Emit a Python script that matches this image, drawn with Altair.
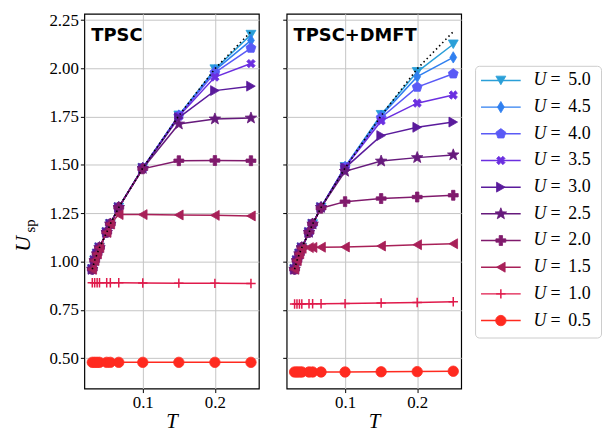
import math
import altair as alt
import pandas as pd

# ---------------- data ----------------
T = [0.03, 0.0333, 0.0367, 0.04, 0.05, 0.055, 0.0667, 0.1, 0.15, 0.2, 0.25]
U_VALUES = [5.0, 4.5, 4.0, 3.5, 3.0, 2.5, 2.0, 1.5, 1.0, 0.5]

# dotted line (upper bound)
crit = [0.96, 1.005, 1.04, 1.072, 1.151, 1.194, 1.28, 1.484, 1.755, 1.998, 2.19]

# TPSC panel
tpsc_50 = [0.96, 1.005, 1.04, 1.072, 1.151, 1.194, 1.28, 1.484, 1.757, 1.996, 2.175]
tpsc_45 = [0.96, 1.005, 1.04, 1.072, 1.151, 1.194, 1.28, 1.484, 1.756, 1.990, 2.145]
tpsc_40 = [0.96, 1.005, 1.04, 1.072, 1.151, 1.194, 1.28, 1.484, 1.755, 1.978, 2.105]
tpsc_35 = [0.96, 1.005, 1.04, 1.072, 1.151, 1.194, 1.28, 1.484, 1.752, 1.955, 2.025]
tpsc_30 = [0.96, 1.005, 1.04, 1.072, 1.151, 1.194, 1.28, 1.483, 1.745, 1.885, 1.908]
tpsc_25 = [0.96, 1.005, 1.04, 1.072, 1.151, 1.194, 1.28, 1.482, 1.712, 1.738, 1.743]
tpsc_20 = [0.96, 1.005, 1.04, 1.072, 1.151, 1.194, 1.28, 1.480, 1.522, 1.523, 1.522]
tpsc_15 = [0.96, 1.005, 1.04, 1.072, 1.151, 1.194, 1.243, 1.243, 1.241, 1.239, 1.236]
tpsc_10 = [0.890, 0.890, 0.890, 0.890, 0.890, 0.890, 0.890, 0.889, 0.888, 0.887, 0.886]
tpsc_05 = [0.478, 0.478, 0.478, 0.478, 0.478, 0.478, 0.478, 0.478, 0.478, 0.478, 0.478]

# TPSC+DMFT panel
dmft_50 = [0.96, 1.005, 1.04, 1.072, 1.151, 1.194, 1.28, 1.490, 1.760, 1.982, 2.125]
dmft_45 = [0.96, 1.005, 1.04, 1.072, 1.151, 1.194, 1.28, 1.490, 1.755, 1.957, 2.057]
dmft_40 = [0.96, 1.005, 1.04, 1.072, 1.151, 1.194, 1.28, 1.489, 1.745, 1.903, 1.972]
dmft_35 = [0.96, 1.005, 1.04, 1.072, 1.151, 1.194, 1.28, 1.488, 1.728, 1.820, 1.862]
dmft_30 = [0.96, 1.005, 1.04, 1.072, 1.151, 1.194, 1.28, 1.485, 1.652, 1.695, 1.722]
dmft_25 = [0.96, 1.005, 1.04, 1.072, 1.151, 1.194, 1.28, 1.467, 1.520, 1.538, 1.552]
dmft_20 = [0.96, 1.005, 1.04, 1.072, 1.151, 1.194, 1.276, 1.310, 1.326, 1.334, 1.343]
dmft_15 = [0.96, 1.005, 1.04, 1.068, 1.072, 1.073, 1.074, 1.075, 1.080, 1.087, 1.092]
dmft_10 = [0.780, 0.780, 0.780, 0.780, 0.781, 0.781, 0.781, 0.782, 0.785, 0.788, 0.792]
dmft_05 = [0.428, 0.428, 0.428, 0.428, 0.428, 0.428, 0.428, 0.428, 0.429, 0.430, 0.432]

TPSC = [tpsc_50, tpsc_45, tpsc_40, tpsc_35, tpsc_30, tpsc_25, tpsc_20, tpsc_15, tpsc_10, tpsc_05]
DMFT = [dmft_50, dmft_45, dmft_40, dmft_35, dmft_30, dmft_25, dmft_20, dmft_15, dmft_10, dmft_05]

Y_TICKS = [0.5, 0.75, 1.0, 1.25, 1.5, 1.75, 2.0, 2.25]
X_TICKS = [0.1, 0.2]

# ---------------- styling ----------------
COLORS = ["#2a9fd8", "#2f7ff0", "#5a5af6", "#6b2fe0", "#5a1b9c",
          "#661a7c", "#801a6c", "#a82058", "#e01a4b", "#ff2a1f"]


def poly(pts):
    return "M" + "L".join(f"{x:.3f},{y:.3f}" for x, y in pts) + "Z"


pent = poly([(math.sin(2 * math.pi * k / 5), -math.cos(2 * math.pi * k / 5)) for k in range(5)])
star_pts = []
for k in range(10):
    r = 1.0 if k % 2 == 0 else 0.42
    a = math.pi * k / 5
    star_pts.append((r * math.sin(a), -r * math.cos(a)))
star = poly(star_pts)
a = 0.34
plus_pts = [(-a, -1), (a, -1), (a, -a), (1, -a), (1, a), (a, a), (a, 1), (-a, 1), (-a, a), (-1, a), (-1, -a), (-a, -a)]
plus_filled = poly(plus_pts)
c = math.sqrt(0.5)
x_filled = poly([((x - y) * c * 0.85, (x + y) * c * 0.85) for x, y in plus_pts])
thin_diamond = "M0,-1L0.6,0L0,1L-0.6,0Z"
thin_plus = "M-1,0L1,0M0,-1L0,1"

SHAPES = ["triangle-down", thin_diamond, pent, x_filled, "triangle-right",
          star, plus_filled, "triangle-left", thin_plus, "circle"]
SIZES = [100, 130, 110, 110, 100, 150, 100, 100, 90, 110]
SW = [0.8, 0.8, 0.8, 0.8, 0.8, 0.8, 0.8, 0.8, 1.5, 0.8]

SERIF = "Liberation Serif"
W, H = 176, 378

x_enc = alt.X("T:Q", scale=alt.Scale(domain=[0.019, 0.261], nice=False, zero=False),
              axis=alt.Axis(values=X_TICKS, format=".1f", title="T", grid=True))


def y_enc(labels):
    return alt.Y("Usp:Q", scale=alt.Scale(domain=[0.342, 2.283], nice=False, zero=False),
                 axis=alt.Axis(values=Y_TICKS, format=".2f", labels=labels, title=None, grid=True))


def panel(series, title, labels):
    y = y_enc(labels)
    layers = []
    for u, vals, col, shp, sz, sw in zip(U_VALUES, series, COLORS, SHAPES, SIZES, SW):
        d = pd.DataFrame({"T": T, "Usp": vals, "U": u})
        base = alt.Chart(d).encode(x=x_enc, y=y)
        layers.append(base.mark_line(color=col, strokeWidth=1.5))
        layers.append(base.mark_point(shape=shp, size=sz, filled=True, color=col,
                                      stroke=col, strokeWidth=sw, opacity=1))
    dc = pd.DataFrame({"T": T, "Usp": crit})
    layers.append(alt.Chart(dc).mark_line(color="black", strokeDash=[1.5, 3], strokeWidth=1.6)
                  .encode(x=x_enc, y=y))
    layers.append(alt.Chart(pd.DataFrame({"t": [title]})).mark_text(
        font="DejaVu Sans", fontWeight="bold", fontSize=18, align="left", baseline="alphabetic",
        color="black").encode(text="t:N", x=alt.value(7), y=alt.value(27)))
    return alt.layer(*layers).properties(width=W, height=H)


left = panel(TPSC, "TPSC", True)
ylab = pd.DataFrame({"a": ["U"], "b": ["sp"]})
left = alt.layer(
    left,
    alt.Chart(ylab).mark_text(font=SERIF, fontStyle="italic", fontSize=22, angle=270,
                              align="center", baseline="middle", color="black")
    .encode(text="a:N", x=alt.value(-62), y=alt.value(232)),
    alt.Chart(ylab).mark_text(font=SERIF, fontSize=15, angle=270,
                              align="center", baseline="middle", color="black")
    .encode(text="b:N", x=alt.value(-55), y=alt.value(214)),
)
right = panel(DMFT, "TPSC+DMFT", False)

# ---------------- legend panel ----------------
LW = 128
leg = pd.DataFrame({"U": U_VALUES, "idx": list(range(len(U_VALUES))),
                    "num": [f"{u:.1f}" for u in U_VALUES]})
ly = alt.Y("idx:Q", scale=alt.Scale(domain=[-2.5, 11.55], reverse=True, nice=False, zero=False), axis=None)
leg_layers = [
    alt.Chart(pd.DataFrame({"k": [0]})).mark_rect(fill="white", stroke="#cccccc", strokeWidth=1,
                                                 cornerRadius=4)
    .encode(x=alt.value(0.5), x2=alt.value(LW - 0.5), y=alt.value(53), y2=alt.value(327))
]
for i, (u, col, shp, sz, sw) in enumerate(zip(U_VALUES, COLORS, SHAPES, SIZES, SW)):
    d = leg[leg.U == u]
    b = alt.Chart(d).encode(y=ly)
    leg_layers.append(b.mark_rule(color=col, strokeWidth=1.5).encode(x=alt.value(6), x2=alt.value(46)))
    leg_layers.append(b.mark_point(shape=shp, size=sz, filled=True, color=col, stroke=col,
                                   strokeWidth=sw, opacity=1).encode(x=alt.value(26)))
lb = alt.Chart(leg).encode(y=ly)
leg_layers.append(lb.mark_text(font=SERIF, fontStyle="italic", fontSize=18, align="left",
                               baseline="middle", color="black").encode(text=alt.value("U"), x=alt.value(59)))
leg_layers.append(lb.mark_text(font=SERIF, fontSize=18, align="left",
                               baseline="middle", color="black").encode(text=alt.value("="), x=alt.value(76)))
leg_layers.append(lb.mark_text(font=SERIF, fontSize=18, align="left",
                               baseline="middle", color="black").encode(text="num:N", x=alt.value(94)))
legend = alt.layer(*leg_layers).properties(width=LW, height=H, view=alt.ViewBackground(stroke="transparent"))

chart = alt.hconcat(alt.hconcat(left, right, spacing=21), legend, spacing=12).properties(
    padding={"left": 3, "top": 0, "right": 0, "bottom": 0}
).configure_view(stroke="black", strokeWidth=1.2).configure_axis(
    domain=False, gridColor="#c4c4c4", gridWidth=1, tickColor="black", tickSize=4,
    tickWidth=1, labelFont=SERIF, labelFontSize=17, labelColor="black",
    titleFont=SERIF, titleFontSize=21, titleFontStyle="italic", titleFontWeight="normal",
    titleColor="black", labelPadding=2, titlePadding=0
).configure_concat(spacing=0)

chart.save("out.html", embed_options={"renderer": "svg", "actions": False})
